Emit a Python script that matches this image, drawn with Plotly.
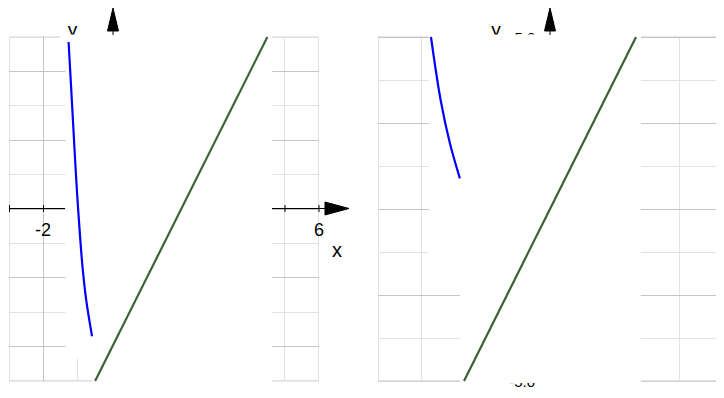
import plotly.graph_objects as go

# the page body keeps its default 8 px margin, so the figure is drawn 8 px smaller
OFF = 8
W, H = 724 - OFF, 398 - OFF

# left panel: y = 2x - 4 and a steep blue curve
left_blue_x = [-1.278, -1.176, -1.069, -1.010, -0.944, -0.865, -0.758, -0.589]
left_blue_y = [5.0, 3.17, 1.22, 0.26, -0.70, -1.69, -2.65, -3.70]
left_green_x = [-0.5, 4.5]
left_green_y = [-5, 5]

# right panel: y = 2x and a short blue segment
right_blue_x = [-3.46, -3.18, -2.91, -2.62]
right_blue_y = [5.0, 3.17, 1.91, 0.89]
right_green_x = [-2.5, 2.5]
right_green_y = [-5, 5]

left_ticks = ["-2", "6"]
left_tick_vals = [-2, 6]
right_tick_text = ["5.0", "-5.0"]

BLUE = "#0000ff"
GREEN = "#3b6633"
MAJOR = "#c4c4c4"
MINOR = "#e2e2e2"
FONT = "Liberation Sans, Arial, sans-serif"

# y range runs a bit past the grid box so the cut labels stay inside it
Y_LO, Y_HI = -5.4, 5.6
UNIT = 34.4


# screen pixel -> paper coordinate
def px(x):
    return (x - OFF) / W


def py(y):
    return 1 - (y - OFF) / H


fig = go.Figure()

# labels first so the white covers can clip them
fig.add_trace(go.Scatter(x=[-1.16], y=[5.18], text=["y"], mode="text", cliponaxis=False,
                         textfont=dict(size=19, color="black", family=FONT),
                         xaxis="x", yaxis="y", hoverinfo="skip"))
fig.add_trace(go.Scatter(x=[-1.57, -0.73, -0.81], y=[5.18, 4.93, -5.06],
                         text=["y"] + right_tick_text, mode="text", cliponaxis=False,
                         textfont=dict(size=[19, 15, 15], color="black", family=FONT),
                         xaxis="x2", yaxis="y2", hoverinfo="skip"))

fig.add_trace(go.Scatter(x=left_blue_x, y=left_blue_y, mode="lines",
                         line=dict(color=BLUE, width=2.2, shape="spline"),
                         xaxis="x", yaxis="y"))
fig.add_trace(go.Scatter(x=left_green_x, y=left_green_y, mode="lines",
                         line=dict(color=GREEN, width=2.2), xaxis="x", yaxis="y"))
fig.add_trace(go.Scatter(x=right_blue_x, y=right_blue_y, mode="lines",
                         line=dict(color=BLUE, width=2.2, shape="spline"),
                         xaxis="x2", yaxis="y2"))
fig.add_trace(go.Scatter(x=right_green_x, y=right_green_y, mode="lines",
                         line=dict(color=GREEN, width=2.2), xaxis="x2", yaxis="y2"))

shapes = []
white = dict(type="rect", fillcolor="white", line=dict(width=0), layer="between")
for xr, yr, rng in (("x", "y", (-3, 6)), ("x2", "y2", (-5, 5))):
    # plot border under the grid
    shapes.append(dict(type="rect", xref=xr, yref=yr, x0=rng[0], x1=rng[1], y0=-5, y1=5,
                       line=dict(color=MAJOR, width=1), layer="below"))
    # hide the grid outside the box
    shapes.append(dict(white, xref=xr, yref=yr, x0=rng[0] - 1, x1=rng[1] + 1,
                       y0=5.02, y1=Y_HI + 1))
    shapes.append(dict(white, xref=xr, yref=yr, x0=rng[0] - 1, x1=rng[1] + 1,
                       y0=Y_LO - 1, y1=-5.02))

# white blocks that hide the grid between the curves
shapes += [
    dict(white, xref="x", yref="y", x0=-1.36, x1=4.64, y0=-4.34, y1=5.3),
    dict(white, xref="x", yref="y", x0=-0.58, x1=4.64, y0=-5.3, y1=5.3),
    dict(white, xref="x2", yref="y2", x0=-3.52, x1=2.64, y0=-1.9, y1=5.3),
    dict(white, xref="x2", yref="y2", x0=-2.62, x1=2.64, y0=-5.3, y1=5.3),
]

# covers that cut the labels
cover = dict(type="rect", xref="paper", yref="paper", fillcolor="white",
             line=dict(width=0), layer="above")
shapes += [
    dict(cover, x0=px(60), x1=px(86), y0=py(42), y1=py(34.5)),
    dict(cover, x0=px(484), x1=px(508), y0=py(42), y1=py(34.5)),
    dict(cover, x0=px(505), x1=px(545), y0=py(55), y1=py(34.5)),
    dict(cover, x0=px(500), x1=px(545), y0=py(383), y1=py(370)),
]

# axes with arrows
ax_line = dict(type="line", xref="paper", yref="paper", line=dict(color="black", width=1),
               layer="above")
shapes += [
    dict(ax_line, x0=px(9), x1=px(65), y0=py(208.5), y1=py(208.5)),
    dict(ax_line, x0=px(272), x1=px(327), y0=py(208.5), y1=py(208.5)),
]
for tx in (9.5, 43.5, 285, 319):
    shapes.append(dict(ax_line, x0=px(tx), x1=px(tx), y0=py(205), y1=py(212)))
for ux in (113, 550):
    shapes.append(dict(ax_line, x0=px(ux), x1=px(ux), y0=py(28), y1=py(35)))
    shapes.append(dict(type="path", xref="paper", yref="paper", layer="above",
                       path="M %f %f L %f %f L %f %f Z" % (px(ux), py(8), px(ux - 5.5), py(31),
                                                        px(ux + 5.5), py(31)),
                       fillcolor="black", line=dict(color="black", width=1)))
shapes.append(dict(type="path", xref="paper", yref="paper", layer="above",
                   path="M %f %f L %f %f L %f %f Z" % (px(349), py(208.5), px(325), py(202),
                                                    px(325), py(215)),
                   fillcolor="black", line=dict(color="black", width=1)))

annotations = [
    dict(x=v, y=py(230), xref="x", yref="paper", text=t, showarrow=False,
         font=dict(size=18, color="black", family=FONT))
    for v, t in zip(left_tick_vals, left_ticks)
]
annotations.append(dict(x=px(337), y=py(250), xref="paper", yref="paper", text="x",
                        showarrow=False, font=dict(size=20, color="black", family=FONT)))


def axis(dom, rng, dtick, minor):
    return dict(domain=dom, range=rng, dtick=dtick, tick0=0, showgrid=True, gridcolor=MAJOR,
                gridwidth=1, minor=dict(dtick=minor, showgrid=True, gridcolor=MINOR),
                zeroline=False, showline=False, showticklabels=False, ticks="",
                fixedrange=True)


ydom = [py(381 - Y_LO * UNIT - 5 * UNIT), py(37 - (Y_HI - 5) * UNIT)]
fig.update_layout(
    width=W, height=H, margin=dict(l=0, r=0, t=0, b=0),
    paper_bgcolor="white", plot_bgcolor="white", showlegend=False,
    xaxis=axis([px(9), px(319)], [-3, 6], 2, 1),
    yaxis=axis(ydom, [Y_LO, Y_HI], 2, 1),
    xaxis2=dict(axis([px(378), px(722)], [-5, 5], 2.5, 1.25), anchor="y2"),
    yaxis2=dict(axis(ydom, [Y_LO, Y_HI], 2.5, 1.25), anchor="x2"),
    shapes=shapes, annotations=annotations,
)

fig.write_html("out.html")
